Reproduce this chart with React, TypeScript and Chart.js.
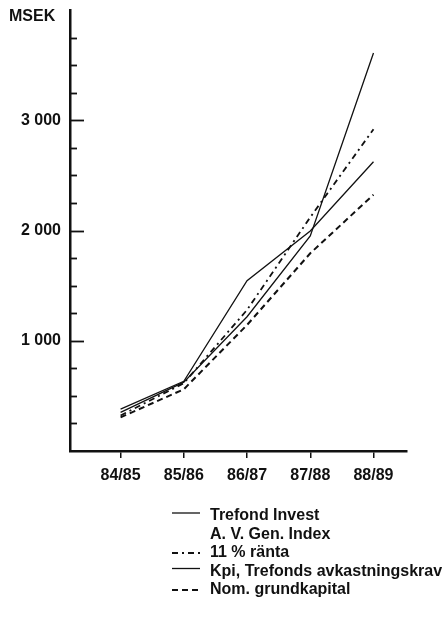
import React, { useEffect, useRef } from 'react';
import { Chart, registerables } from 'chart.js';

Chart.register(...registerables);

// ---- data ----
const CATEGORIES = ['84/85', '85/86', '86/87', '87/88', '88/89'];
const TREFOND_INVEST = [350, 625, 1218, 1950, 3610];
const AV_GEN_INDEX: number[] = [];
const RANTA_11 = [322, 615, 1280, 2120, 2918];
const KPI_AVKASTNINGSKRAV = [380, 632, 1545, 1995, 2624];
const NOM_GRUNDKAPITAL = [305, 560, 1143, 1793, 2325];
const Y_LABELED_TICKS = [1000, 2000, 3000];
const Y_MIN = 0;
const Y_MAX = 4000;
const Y_STEP = 250;
const Y_UNIT = 'MSEK';

const FONT_FAMILY = "'Liberation Sans', Arial, Helvetica, sans-serif";
const INK = '#111';

const fmt = (v: number) => String(v).replace(/\B(?=(\d{3})+(?!\d))/g, ' ');

const decorPlugin = {
  id: 'decor',
  afterDraw(chart: any) {
    const { ctx, chartArea } = chart;
    const y = chart.scales.y;
    ctx.save();
    // inner tick marks on the y axis
    ctx.strokeStyle = INK;
    ctx.lineWidth = 1.8;
    y.ticks.forEach((t: any) => {
      if (t.value <= Y_MIN || t.value >= Y_MAX) return;
      const py = Math.round(y.getPixelForValue(t.value)) + 0.5;
      const len = t.value % 1000 === 0 ? 14 : 7;
      ctx.beginPath();
      ctx.moveTo(chartArea.left, py);
      ctx.lineTo(chartArea.left + len, py);
      ctx.stroke();
    });
    // unit label
    ctx.fillStyle = INK;
    ctx.font = `bold 16px ${FONT_FAMILY}`;
    ctx.textBaseline = 'middle';
    ctx.textAlign = 'left';
    ctx.fillText(Y_UNIT, 9, 17);

    // legend
    const rowY0 = 516;
    const rowH = 18.5;
    chart.data.datasets.forEach((ds: any, i: number) => {
      const cy = rowY0 + i * rowH;
      if (ds.data.length > 0) {
        ctx.strokeStyle = ds.borderColor;
        ctx.lineWidth = ds.borderWidth;
        ctx.setLineDash(ds.borderDash || []);
        const ly = ds.borderDash && ds.borderDash.length ? cy : cy - 3;
        ctx.beginPath();
        ctx.moveTo(172, ly);
        ctx.lineTo(200, ly);
        ctx.stroke();
        ctx.setLineDash([]);
      }
      ctx.fillStyle = INK;
      ctx.font = `bold 16px ${FONT_FAMILY}`;
      ctx.fillText(ds.label, 210, cy);
    });
    ctx.restore();
  },
};

export default function App() {
  const ref = useRef<HTMLCanvasElement | null>(null);

  useEffect(() => {
    if (!ref.current) return;
    const tickFont = { family: FONT_FAMILY, size: 16, weight: 'bold' as const };
    const chart = new Chart(ref.current, {
      type: 'line',
      data: {
        datasets: [
          {
            label: 'Trefond Invest',
            data: TREFOND_INVEST.map((v, i) => ({ x: i, y: v })),
            borderColor: INK,
            borderWidth: 1.3,
          },
          {
            label: 'A. V. Gen. Index',
            data: AV_GEN_INDEX.map((v, i) => ({ x: i, y: v })),
            borderColor: INK,
            borderWidth: 1,
            borderDash: [1, 3],
          },
          {
            label: '11 % ränta',
            data: RANTA_11.map((v, i) => ({ x: i, y: v })),
            borderColor: INK,
            borderWidth: 1.8,
            borderDash: [6, 4, 2, 4],
          },
          {
            label: 'Kpi, Trefonds avkastningskrav',
            data: KPI_AVKASTNINGSKRAV.map((v, i) => ({ x: i, y: v })),
            borderColor: INK,
            borderWidth: 1.3,
          },
          {
            label: 'Nom. grundkapital',
            data: NOM_GRUNDKAPITAL.map((v, i) => ({ x: i, y: v })),
            borderColor: INK,
            borderWidth: 2,
            borderDash: [6, 4],
          },
        ],
      },
      options: {
        animation: false,
        responsive: false,
        maintainAspectRatio: false,
        layout: { padding: { top: 10, right: 39, left: 0, bottom: 0 } },
        elements: { point: { radius: 0 }, line: { tension: 0 } },
        plugins: { legend: { display: false }, tooltip: { enabled: false } },
        scales: {
          x: {
            type: 'linear',
            min: -0.8,
            max: 4.53,
            afterBuildTicks: (s: any) => {
              s.ticks = CATEGORIES.map((_, i) => ({ value: i }));
            },
            afterFit: (s: any) => {
              s.height = 180;
              s.paddingLeft = 0;
              s.paddingRight = 0;
            },
            ticks: {
              autoSkip: false,
              maxRotation: 0,
              padding: 8,
              color: INK,
              font: tickFont,
              callback: (v: any) => CATEGORIES[v] ?? '',
            },
            grid: { drawOnChartArea: false, drawTicks: true, tickLength: 7, color: INK, lineWidth: 1.5 },
            border: { display: true, color: INK, width: 2.5 },
          },
          y: {
            min: Y_MIN,
            max: Y_MAX,
            afterFit: (s: any) => {
              s.width = 70;
              s.paddingTop = 0;
              s.paddingBottom = 0;
            },
            ticks: {
              stepSize: Y_STEP,
              autoSkip: false,
              padding: 9,
              color: INK,
              font: tickFont,
              callback: (v: any) => (Y_LABELED_TICKS.includes(v) ? fmt(v) : ''),
            },
            grid: { drawOnChartArea: false, drawTicks: false },
            border: { display: true, color: INK, width: 2.5 },
          },
        },
      },
      plugins: [decorPlugin],
    });
    return () => chart.destroy();
  }, []);

  return (
    <div style={{ position: 'absolute', left: 0, top: 0, width: 446, height: 631, background: '#fff' }}>
      <canvas ref={ref} width={446} height={631} style={{ display: 'block', width: 446, height: 631 }} />
    </div>
  );
}
